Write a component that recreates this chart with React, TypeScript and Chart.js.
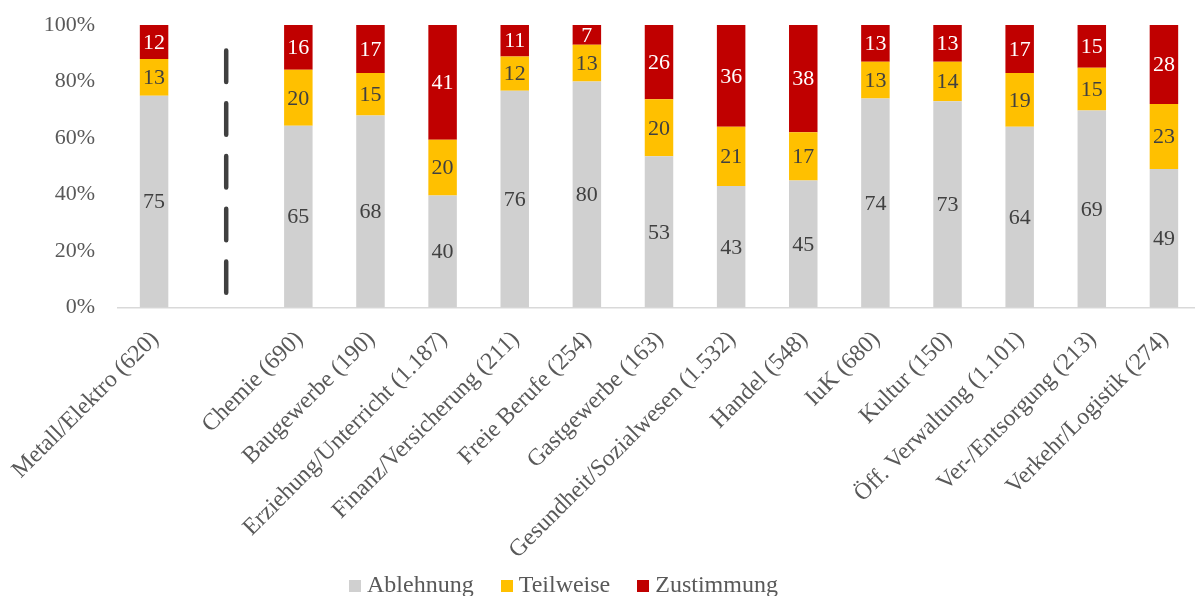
import React, { useEffect, useRef } from 'react';
import { Chart, registerables } from 'chart.js';

Chart.register(...registerables);

const categories = [
  'Metall/Elektro (620)',
  '',
  'Chemie (690)',
  'Baugewerbe (190)',
  'Erziehung/Unterricht (1.187)',
  'Finanz/Versicherung (211)',
  'Freie Berufe (254)',
  'Gastgewerbe (163)',
  'Gesundheit/Sozialwesen (1.532)',
  'Handel (548)',
  'IuK (680)',
  'Kultur (150)',
  'Öff. Verwaltung (1.101)',
  'Ver-/Entsorgung (213)',
  'Verkehr/Logistik (274)',
];

const ablehnung = [75, null, 65, 68, 40, 76, 80, 53, 43, 45, 74, 73, 64, 69, 49];
const teilweise = [13, null, 20, 15, 20, 12, 13, 20, 21, 17, 13, 14, 19, 15, 23];
const zustimmung = [12, null, 16, 17, 41, 11, 7, 26, 36, 38, 13, 13, 17, 15, 28];

const seriesNames = ['Ablehnung', 'Teilweise', 'Zustimmung'];
const seriesColors = ['#D0D0D0', '#FFC000', '#C00000'];
const valueLabelColors = ['#404040', '#404040', '#FFFFFF'];

const yTickValues = [0, 20, 40, 60, 80, 100];

// divider between first category and the rest (empty slot index, y range in %)
const dividerIndex = 1;
const dividerFrom = 91;
const dividerTo = 5.2;

const FONT = '"Liberation Serif", "Times New Roman", serif';
const TEXT_GRAY = '#595959';

const rawSeries = [ablehnung, teilweise, zustimmung];

function normalized(seriesIdx: number) {
  return categories.map((_, i) => {
    const v = rawSeries[seriesIdx][i];
    if (v === null) return null;
    const total = rawSeries.reduce((s, arr) => s + (arr[i] ?? 0), 0);
    return (v / total) * 100;
  });
}

const valueLabelPlugin = {
  id: 'valueLabels',
  afterDatasetsDraw(chart: any) {
    const ctx = chart.ctx;
    ctx.save();
    ctx.font = `22px ${FONT}`;
    ctx.textAlign = 'center';
    ctx.textBaseline = 'middle';
    chart.data.datasets.forEach((ds: any, di: number) => {
      const meta = chart.getDatasetMeta(di);
      meta.data.forEach((el: any, i: number) => {
        const raw = rawSeries[di][i];
        if (raw === null || raw === undefined) return;
        const { x, y, base } = el.getProps(['x', 'y', 'base'], true);
        ctx.fillStyle = valueLabelColors[di];
        ctx.fillText(String(raw), x, (y + base) / 2 + 1);
      });
    });
    ctx.restore();
  },
};

const dividerPlugin = {
  id: 'divider',
  afterDatasetsDraw(chart: any) {
    const xs = chart.scales.x;
    const ys = chart.scales.y;
    const ctx = chart.ctx;
    const x = xs.getPixelForValue(dividerIndex);
    ctx.save();
    ctx.strokeStyle = '#404040';
    ctx.lineWidth = 4.5;
    ctx.lineCap = 'round';
    ctx.setLineDash([31.5, 21.25]);
    ctx.beginPath();
    ctx.moveTo(x, ys.getPixelForValue(dividerFrom));
    ctx.lineTo(x, ys.getPixelForValue(dividerTo));
    ctx.stroke();
    ctx.restore();
  },
};

export default function App() {
  const ref = useRef<HTMLCanvasElement>(null);

  useEffect(() => {
    if (!ref.current) return;
    const chart = new Chart(ref.current, {
      type: 'bar',
      data: {
        labels: categories,
        datasets: seriesNames.map((name, i) => ({
          label: name,
          data: normalized(i),
          backgroundColor: seriesColors[i],
          borderWidth: 0,
          barPercentage: 0.395,
          categoryPercentage: 1,
        })),
      },
      options: {
        responsive: false,
        animation: false,
        devicePixelRatio: 1,
        layout: { padding: { top: 25, right: 10, left: 0, bottom: 0 } },
        plugins: {
          legend: { display: false },
          tooltip: { enabled: false },
        },
        scales: {
          x: {
            stacked: true,
            grid: { display: false, drawTicks: false },
            border: { display: true, color: '#D9D9D9', width: 1.5 },
            ticks: {
              autoSkip: false,
              maxRotation: 45,
              minRotation: 45,
              padding: 18,
              labelOffset: 1,
              color: TEXT_GRAY,
              font: { family: FONT, size: 23.8 },
            },
            afterFit(scale: any) {
              scale.height = 596 - 307.5;
              scale.paddingLeft = 0;
              scale.paddingRight = 0;
            },
          },
          y: {
            stacked: true,
            min: 0,
            max: 100,
            grid: { display: false, drawTicks: false },
            border: { display: false },
            afterBuildTicks(scale: any) {
              scale.ticks = yTickValues.map((v) => ({ value: v }));
            },
            ticks: {
              padding: 23,
              color: TEXT_GRAY,
              font: { family: FONT, size: 22 },
              callback: (v: any) => `${v}%`,
            },
            afterFit(scale: any) {
              scale.width = 118;
              scale.paddingTop = 0;
              scale.paddingBottom = 0;
            },
          },
        },
      },
      plugins: [valueLabelPlugin, dividerPlugin],
    });
    return () => chart.destroy();
  }, []);

  const legendItem = (name: string, color: string, i: number) => (
    <div
      key={name}
      style={{
        display: 'flex',
        alignItems: 'center',
        marginLeft: i === 0 ? 0 : 27,
      }}
    >
      <span
        style={{
          display: 'inline-block',
          width: 12,
          height: 12,
          background: color,
          marginRight: 6,
          marginTop: 3,
        }}
      />
      <span>{name}</span>
    </div>
  );

  return (
    <div style={{ position: 'absolute', left: 0, top: 0, width: 1210, height: 596, overflow: 'visible' }}>
      <canvas ref={ref} width={1210} height={596} style={{ display: 'block' }} />
      <div
        style={{
          position: 'absolute',
          left: 349,
          top: 571,
          display: 'flex',
          alignItems: 'center',
          fontFamily: FONT,
          fontSize: 24,
          lineHeight: '26px',
          color: TEXT_GRAY,
          whiteSpace: 'nowrap',
        }}
      >
        {seriesNames.map((n, i) => legendItem(n, seriesColors[i], i))}
      </div>
    </div>
  );
}
